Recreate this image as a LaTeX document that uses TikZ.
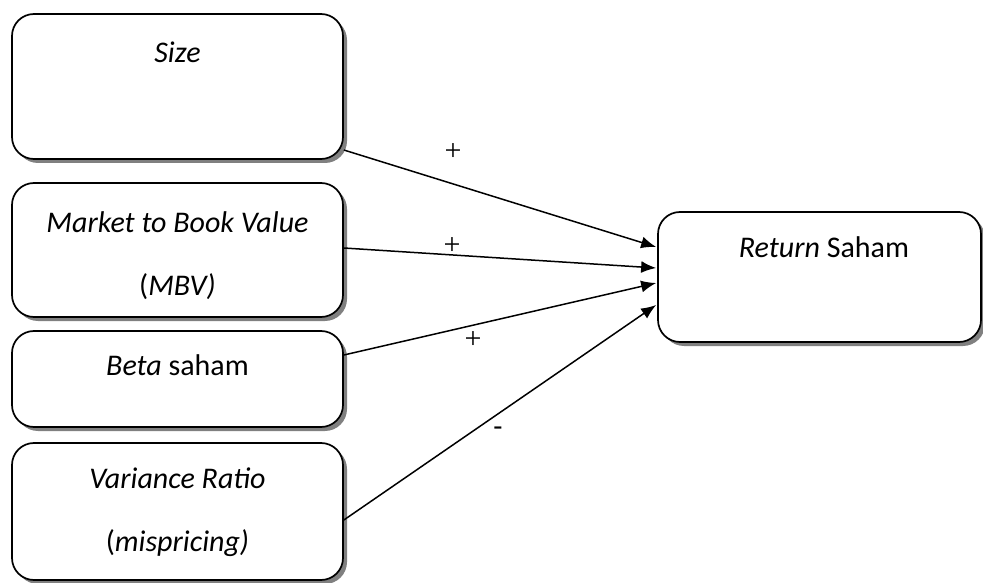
\documentclass[tikz,border=0pt]{standalone}
\usepackage{fontspec}
\setmainfont{Carlito}
\newfontfamily\plusfont{Liberation Serif}
\usetikzlibrary{shadows,calc,arrows.meta}
\begin{document}
\begin{tikzpicture}[x=1pt,y=1pt,
  boxstyle/.style={draw=black, line width=1.7pt, fill=white, rounded corners=22pt,
    minimum width=#1, inner sep=0pt,
    drop shadow={shadow xshift=4pt, shadow yshift=-4pt, fill=black!50, opacity=1}},
  boxstyle/.default={331pt},
  txt/.style={font=\fontsize{30}{36}\selectfont, inner sep=0pt},
  sign/.style={font=\plusfont\fontsize{30}{34}\selectfont, inner sep=0pt},
  conn/.style={line width=1.5pt, -{Latex[length=15pt,width=12pt]}}
]
\useasboundingbox (0,0) rectangle (983,582);
% boxes
\node[boxstyle, minimum height=145pt] (size) at (177.5,495.5) {};
\node[boxstyle, minimum height=134pt] (mbv) at (177.5,332) {};
\node[boxstyle, minimum height=96pt] (beta) at (177.5,203) {};
\node[boxstyle, minimum height=137pt] (var) at (177.5,70.5) {};
\node[boxstyle=323pt, minimum height=130pt] (ret) at (819.5,305) {};
% texts
\node[txt] (tsize) at (177.5,530) {\textit{Size}};
\node[txt] (tmbv1) at (177.5,360) {\textit{Market to Book Value}};
\node[txt] (tmbv2) at (177.5,295) {(\textit{MBV)}};
\node[txt] (tbeta) at (177.5,217) {\textit{Beta} saham};
\node[txt] (tvar1) at (177.5,104) {\textit{Variance Ratio}};
\node[txt] (tvar2) at (177.5,39) {(\textit{mispricing)}};
\node[txt] (tret) at (824,335) {\textit{Return} Saham};
% connectors
\draw[conn] ($(size.east)+(0,-63.5)$) -- ($(ret.west)+(-1,30)$);
\draw[conn] ($(mbv.east)+(0,2)$) -- ($(ret.west)+(-1,9)$);
\draw[conn] ($(beta.east)+(0,24)$) -- ($(ret.west)+(-1,-6)$);
\draw[conn] ($(var.east)+(0,-8.5)$) -- ($(ret.west)+(-1,-28)$);
% signs
\node[sign] (s1) at (453,430) {+};
\node[sign] (s2) at (452,336) {+};
\node[sign] (s3) at (473,242) {+};
\node[txt] (s4) at (498,150) {-};
\end{tikzpicture}
\end{document}
